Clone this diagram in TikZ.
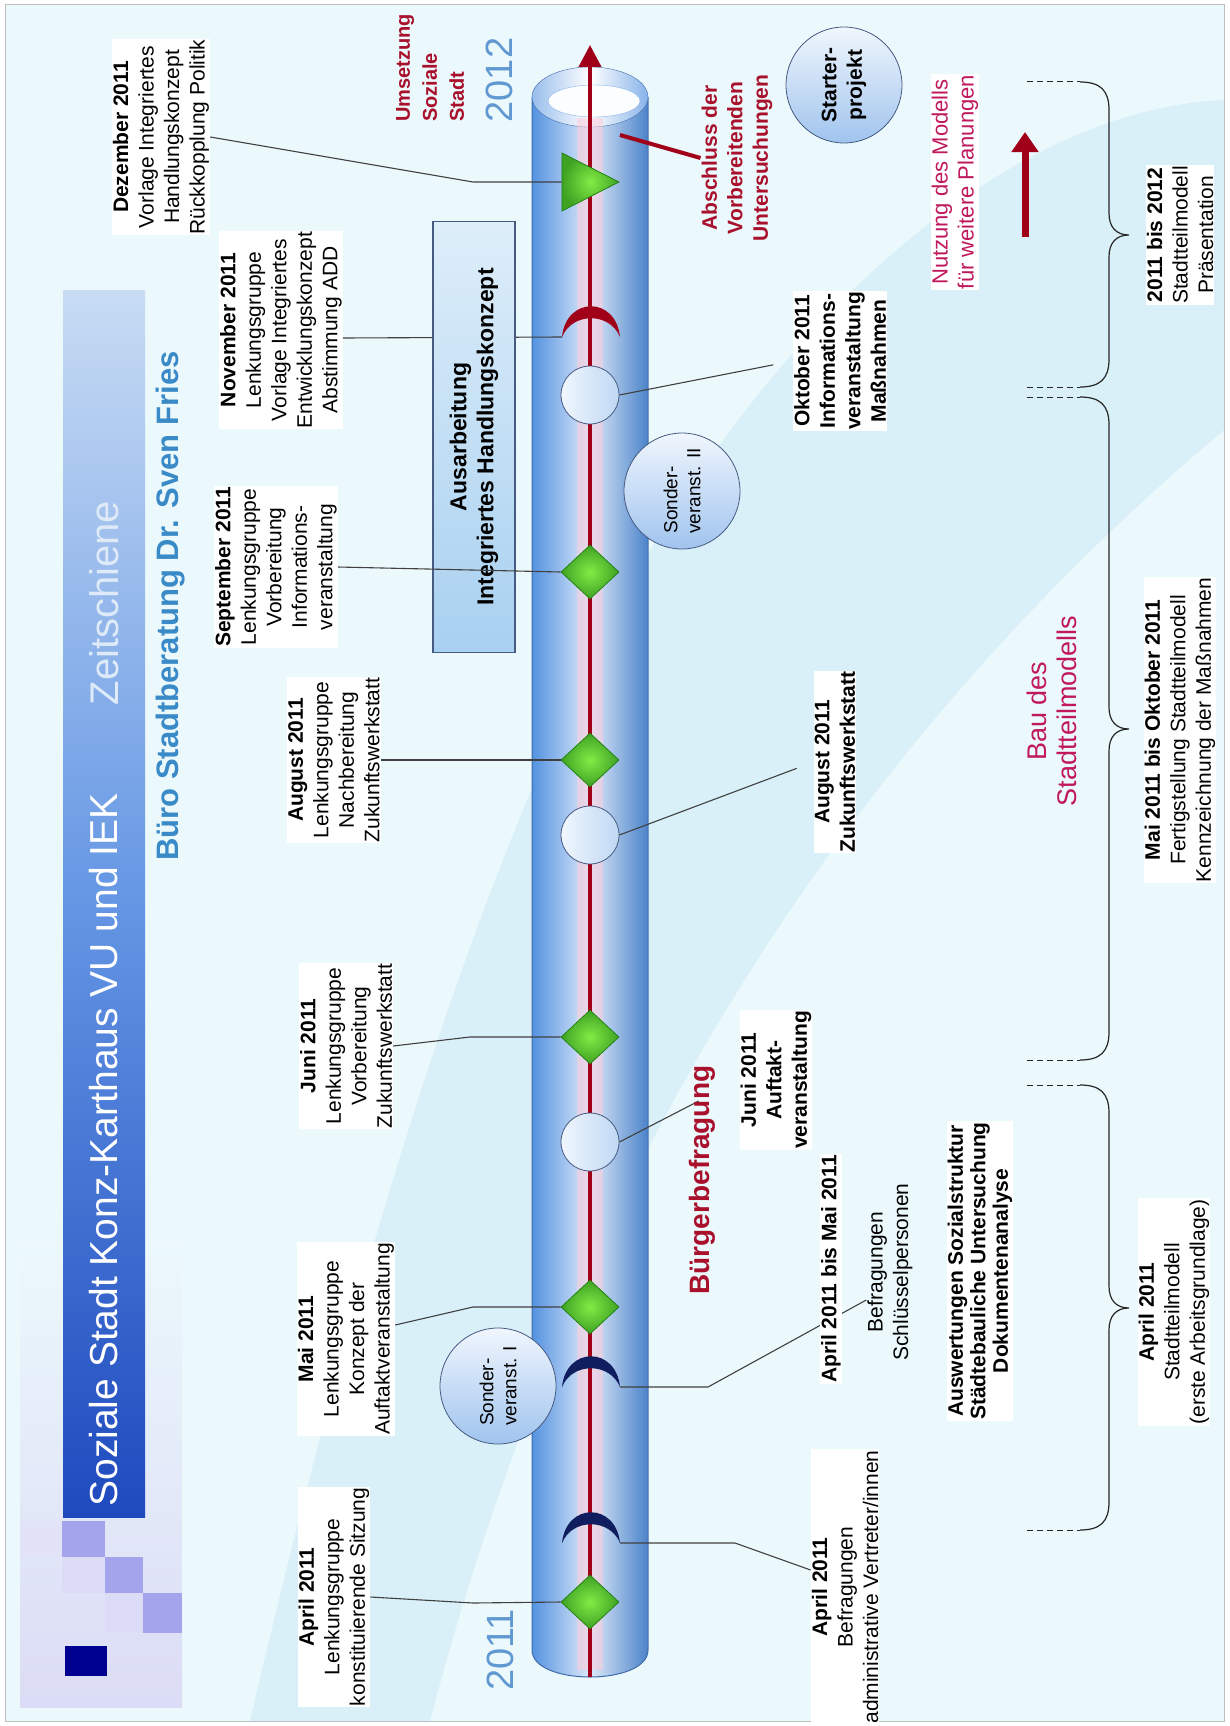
\documentclass[tikz,border=0pt]{standalone}
\usepackage{fontspec}
\setmainfont{Liberation Sans}
\usetikzlibrary{arrows.meta,positioning,shapes.geometric}

\definecolor{bgcyan}{RGB}{236,249,252}
\definecolor{swoosh}{RGB}{205,234,246}
\definecolor{lavender}{RGB}{220,220,246}
\definecolor{lilac}{RGB}{164,164,236}
\definecolor{navysq}{RGB}{0,0,144}
\definecolor{bardark}{RGB}{30,74,190}
\definecolor{barmid}{RGB}{100,150,228}
\definecolor{barlight}{RGB}{200,220,244}
\definecolor{steelblue}{RGB}{58,138,200}
\definecolor{tubeblue}{RGB}{84,146,224}
\definecolor{tubelight}{RGB}{222,234,250}
\definecolor{tubeedge}{RGB}{64,108,170}
\definecolor{railred}{RGB}{160,0,24}
\definecolor{railglow}{RGB}{248,206,220}
\definecolor{leafgreen}{RGB}{130,236,70}
\definecolor{deepgreen}{RGB}{34,130,20}
\definecolor{navymoon}{RGB}{16,30,96}
\definecolor{wine}{RGB}{168,16,44}
\definecolor{berry}{RGB}{192,24,92}
\definecolor{bubble}{RGB}{160,196,238}
\definecolor{bubblelight}{RGB}{240,246,253}
\definecolor{bubbleedge}{RGB}{70,90,130}
\definecolor{boxblue}{RGB}{168,208,240}
\definecolor{boxlight}{RGB}{222,238,250}
\definecolor{yearblue}{RGB}{96,152,210}

\newcommand\lblsize{\fontsize{21}{25.5}\selectfont}
\newcommand\crescentmark[3]{%
  \fill[#3] (562,#2) .. controls (566,#2-41) and (616,#2-41) .. (620,#2)
    .. controls (610,#2-25) and (572,#2-25) .. (562,#2) -- cycle;
  \coordinate (#1) at (620,#2);
  \coordinate (#1-l) at (562,#2);}

\begin{document}
\begin{tikzpicture}[x=1pt, y=-1pt,
    lbl/.style={rotate=90, align=center, font=\lblsize, fill=white, inner sep=1pt},
    blbl/.style={lbl, font=\lblsize\bfseries},
    conn/.style={draw=black!75, line width=1.1pt},
    gem/.style={diamond, draw=deepgreen, line width=0.8pt, inner color=leafgreen, outer color=deepgreen!70!leafgreen, minimum width=58pt, minimum height=54pt, inner sep=0pt},
    tri/.style={isosceles triangle, isosceles triangle stretches, draw=deepgreen, line width=0.8pt, inner color=leafgreen, outer color=deepgreen!70!leafgreen, minimum width=58pt, minimum height=57pt, inner sep=0pt},
    dot/.style={circle, draw=bubbleedge, line width=0.8pt, left color=bubblelight, right color=bubble!60!bubblelight, minimum size=58pt, inner sep=0pt},
    bubble/.style={circle, rotate=90, draw=bubbleedge, line width=0.8pt, top color=bubblelight, bottom color=bubble, minimum size=116pt, inner sep=0pt},
    yearlbl/.style={rotate=90, text=yearblue, font=\fontsize{38}{40}\selectfont},
    curly/.style={draw=black!85, line width=1.2pt},
    endtick/.style={draw=black!85, line width=1pt, dash pattern=on 6pt off 4pt}
  ]
  \useasboundingbox (0,0) rectangle (1229,1726);
  \fill[white] (0,0) rectangle (1229,1726);
  \fill[bgcyan] (5,5) rectangle (1224,1721);
  \fill[swoosh, opacity=0.6] (1224,100) .. controls (1000,110) and (760,330) .. (600,640)
    .. controls (470,900) and (360,1250) .. (250,1721) -- (430,1721)
    .. controls (540,1300) and (760,820) .. (1224,430) -- cycle;
  \draw[black!25, line width=1pt] (5,5) rectangle (1224,1721);

  % title bar and corner squares
  \shade[top color=bgcyan, bottom color=lavender] (20,1230) rectangle (182,1707);
  \fill[lavender!80!white] (20,1521) rectangle (62,1557);
  \fill[lilac] (62,1521) rectangle (105,1557);
  \fill[lavender] (62,1557) rectangle (105,1593);
  \fill[lilac] (105,1557) rectangle (143,1593);
  \fill[lavender] (105,1593) rectangle (143,1633);
  \fill[lilac] (143,1593) rectangle (182,1633);
  \fill[navysq] (65,1646) rectangle (107,1676);
  \shade[top color=barlight, bottom color=bardark, middle color=barmid] (63,290) rectangle (145,1517);
  \node[rotate=90, text=white, font=\fontsize{39}{45}\selectfont] (title) at (104,1150) {Soziale Stadt Konz-Karthaus VU und IEK};
  \node[rotate=90, text=barlight!60!white, font=\fontsize{40}{45}\selectfont] (zeit) at (104,603) {Zeitschiene};
  \node[rotate=90, text=steelblue, font=\fontsize{31}{36}\selectfont\bfseries] (buero) at (171,606) {Büro Stadtberatung Dr. Sven Fries};

  % tube with time rail
  \shade[left color=tubeblue, right color=tubeblue!90!black, middle color=tubelight]
    (532,97) -- (532,1650) .. controls (532,1686) and (648,1686) .. (648,1650) -- (648,97) -- cycle;
  \draw[tubeedge, line width=1pt]
    (532,97) -- (532,1650) .. controls (532,1686) and (648,1686) .. (648,1650) -- (648,97);
  \shade[left color=tubeblue!60!white, right color=tubeblue!70!white, middle color=white, draw=tubeedge]
    (590,97) ellipse [x radius=58, y radius=30];
  \filldraw[fill=white!90!tubelight, draw=tubeblue!70] (594,101) ellipse [x radius=46, y radius=16];
  \draw[railglow, line width=26pt, opacity=0.6] (590,1670) -- (590,118);
  \coordinate (railfoot) at (590,1677);
  \coordinate (railtip) at (590,45);
  \draw[railred, line width=4pt, -{Triangle[length=22pt,width=22pt]}] (railfoot) -- (railtip);

  \node[yearlbl] (y12) at (499,80) {2012};
  \node[yearlbl] (y11) at (500,1650) {2011};

  % labels above the rail
  \node[lbl] (dez) at (161,137) {\textbf{Dezember 2011}\\Vorlage Integriertes\\Handlungskonzept\\Rückkopplung Politik};
  \node[lbl] (nov) at (281,330) {\textbf{November 2011}\\Lenkungsgruppe\\Vorlage Integriertes\\Entwicklungskonzept\\Abstimmung ADD};
  \node[lbl] (sep) at (276,567) {\textbf{September 2011}\\Lenkungsgruppe\\Vorbereitung\\Informations-\\veranstaltung};
  \node[lbl] (aug) at (334,760) {\textbf{August 2011}\\Lenkungsgruppe\\Nachbereitung\\Zukunftswerkstatt};
  \node[lbl] (jun) at (346,1046) {\textbf{Juni 2011}\\Lenkungsgruppe\\Vorbereitung\\Zukunftswerkstatt};
  \node[lbl] (mai) at (346,1339) {\textbf{Mai 2011}\\Lenkungsgruppe\\Konzept der\\Auftaktveranstaltung};
  \node[lbl] (apr) at (334,1597) {\textbf{April 2011}\\Lenkungsgruppe\\konstituierende Sitzung};

  \crescentmark{kred}{337}{railred}
  \crescentmark{kblue2}{1387}{navymoon}
  \crescentmark{kblue1}{1543}{navymoon}

  \draw[conn] ([yshift=-8pt]nov.south) -- (kred-l);
  \node[rotate=90, draw=bubbleedge, line width=1.2pt, top color=boxlight, bottom color=boxblue,
    minimum width=431pt, minimum height=82pt, align=center, font=\fontsize{23}{27}\selectfont\bfseries]
    (ausarb) at (474,437) {Ausarbeitung\\Integriertes Handlungskonzept};

  \node[tri, anchor=apex] (tdez) at (620,182) {};
  \foreach \n/\y in {sep/572,aug/760,jun/1037,mai/1307,apr/1602}
    \node[gem] (g\n) at (590,\y) {};
  \node[dot] (cokt) at (590,395) {};
  \node[dot] (caug) at (590,835) {};
  \node[dot] (cjun) at (590,1142) {};

  \draw[conn] (dez.south) -- (473,182) -- (tdez.west);
  \draw[conn] (sep.south) -- (gsep.west);
  \draw[conn] (aug.south) -- (gaug.west);
  \draw[conn] (jun.south) -- (470,1037) -- (gjun.west);
  \draw[conn] ([yshift=14pt]mai.south) -- (473,1307) -- (gmai.west);
  \draw[conn] (apr.south) -- (473,1603) -- (gapr.west);

  \node[bubble, font=\fontsize{19}{23}\selectfont, align=left] (son1) at (498,1386) {Sonder-\\veranst. I};
  \node[bubble, font=\fontsize{19}{23}\selectfont, align=left] (son2) at (682,491) {Sonder-\\veranst. II};
  \node[bubble, font=\lblsize\bfseries, align=center] (start) at (844,85) {Starter-\\projekt};

  % labels below the rail
  \node[rotate=90, align=left, text=wine, font=\fontsize{20}{27}\selectfont\bfseries] (ums) at (430,68) {Umsetzung\\Soziale\\Stadt};
  \node[blbl, text=wine, fill=none] (absch) at (737,158) {Abschluss der\\Vorbereitenden\\Untersuchungen};
  \coordinate (abschfoot) at (620,135);
  \draw[railred, line width=4pt] (abschfoot) -- (absch.north);

  \node[blbl] (okt) at (840,361) {Oktober 2011\\Informations-\\veranstaltung\\Maßnahmen};
  \node[blbl] (augzw) at (835,762) {August 2011\\Zukunftswerkstatt};
  \node[blbl] (junav) at (776,1080) {Juni 2011\\Auftakt-\\veranstaltung};
  \draw[conn, shorten >=20pt] (cokt.east) -- (okt.north);
  \draw[conn, shorten >=18pt] (caug.east) -- (augzw.north);
  \draw[conn, shorten >=46pt] (cjun.east) -- (junav.north);
  \node[rotate=90, text=wine, font=\fontsize{28}{30}\selectfont\bfseries] (bbf) at (702,1180) {Bürgerbefragung};

  \node[lbl, fill=none] (befr) at (890,1272) {Befragungen\\Schlüsselpersonen};
  \node[lbl] (aprbef) at (845,1587) {\textbf{April 2011}\\Befragungen\\administrative Vertreter/innen};
  \draw[conn] (kblue2) -- (708,1387) -- ([yshift=-28pt]befr.north);
  \draw[conn] (kblue1) -- (735,1543) -- ([yshift=17pt]aprbef.north);
  \node[blbl] (aprmai) at (831,1269) {April 2011 bis Mai 2011};
  \node[lbl, font=\fontsize{21}{22.5}\selectfont\bfseries] (ausw) at (980,1271) {Auswertungen Sozialstruktur\\Städtebauliche Untersuchung\\Dokumentenanalyse};

  % model building
  \node[lbl, text=berry, font=\fontsize{22}{26}\selectfont] (nutz) at (955,182) {Nutzung des Modells\\für weitere Planungen};
  \coordinate (nutzfoot) at (1025,237);
  \coordinate (nutztip) at (1025,132);
  \draw[railred, line width=7pt, -{Triangle[length=20pt,width=26pt]}] (nutzfoot) -- (nutztip);
  \node[lbl, text=berry, fill=none, font=\fontsize{27}{30}\selectfont] (bau) at (1052,711) {Bau des\\Stadtteilmodells};

  \foreach \a/\m/\b in {82/235/387,397/729/1060,1085/1308/1530}{
    \draw[curly] (1080,\a) .. controls (1100,\a) and (1109,\a+8) .. (1109,\a+28)
      -- (1109,\m-22) .. controls (1109,\m-8) and (1116,\m) .. (1129,\m)
      .. controls (1116,\m) and (1109,\m+8) .. (1109,\m+22)
      -- (1109,\b-28) .. controls (1109,\b-8) and (1100,\b) .. (1080,\b);
    \draw[endtick] (1027,\a) -- (1080,\a);
    \draw[endtick] (1027,\b) -- (1080,\b);
  }
  \node[lbl] (mod1) at (1180,235) {\textbf{2011 bis 2012}\\Stadtteilmodell\\Präsentation};
  \node[lbl] (mod2) at (1180,730) {\textbf{Mai 2011 bis Oktober 2011}\\Fertigstellung Stadtteilmodell\\Kennzeichnung der Maßnahmen};
  \node[lbl] (mod3) at (1174,1312) {\textbf{April 2011}\\Stadtteilmodell\\(erste Arbeitsgrundlage)};
\end{tikzpicture}
\end{document}
